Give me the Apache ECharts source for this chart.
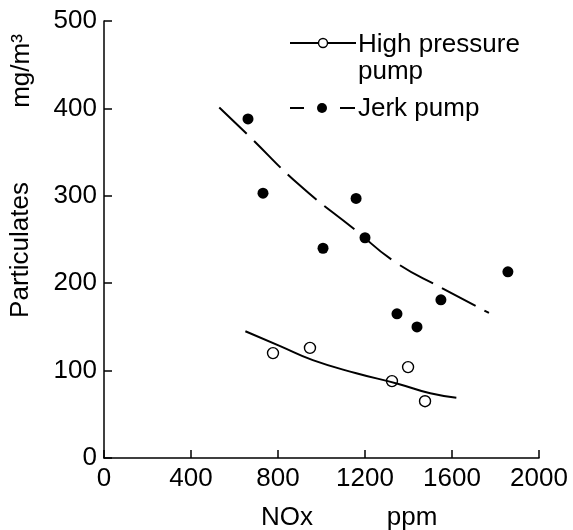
<!DOCTYPE html>
<html>
<head>
<meta charset="utf-8">
<script src="https://cdn.jsdelivr.net/npm/echarts@6/dist/echarts.min.js"></script>
<style>
html,body{margin:0;padding:0;background:#fff;}
#chart{width:573px;height:530px;}
</style>
</head>
<body>
<div id="chart"></div>
<script>
// Data
var xTicks = [0, 400, 800, 1200, 1600, 2000];
var yTicks = [0, 100, 200, 300, 400, 500];
var jerkX = [662, 731, 1007, 1159, 1200, 1347, 1439, 1549, 1857];
var jerkY = [388, 303, 240, 297, 252, 165, 150, 181, 213];
var hpX = [777, 947, 1324, 1398, 1476];
var hpY = [120, 126, 88, 104, 65];
var jerkFitX = [530, 660, 900, 1150, 1340, 1550, 1770];
var jerkFitY = [401, 370, 312, 262, 224, 195, 166];
var hpFitX = [650, 810, 960, 1160, 1350, 1500, 1620];
var hpFitY = [145, 128, 112, 97, 85, 74, 69];
var seriesNames = ['High pressure pump', 'Jerk pump'];

function pairs(xs, ys) { return xs.map(function (x, i) { return [x, ys[i]]; }); }

var FONT = '"Liberation Sans", Arial, Helvetica, sans-serif';
var chart = echarts.init(document.getElementById('chart'), null, {renderer: 'canvas'});

var axisCommon = {
  splitLine: {show: false},
  axisLine: {show: true, onZero: false, lineStyle: {color: '#000', width: 1.5}},
  axisTick: {show: true, inside: true, length: 8, lineStyle: {color: '#000', width: 1.5}},
  axisLabel: {color: '#000', fontSize: 26, fontFamily: FONT, formatter: function (v) { return String(v); }}
};

var option = {
  animation: false,
  backgroundColor: '#fff',
  grid: {left: 104, right: 34, top: 21, bottom: 72, containLabel: false},
  xAxis: Object.assign({}, axisCommon, {
    type: 'value', min: xTicks[0], max: xTicks[xTicks.length - 1], interval: 400,
    axisLabel: Object.assign({}, axisCommon.axisLabel, {margin: 8, showMaxLabel: true, showMinLabel: true})
  }),
  yAxis: Object.assign({}, axisCommon, {
    type: 'value', min: yTicks[0], max: yTicks[yTicks.length - 1], interval: 100,
    axisLabel: Object.assign({}, axisCommon.axisLabel, {margin: 7})
  }),
  series: [
    {
      name: seriesNames[1] + ' fit', type: 'line', smooth: true, symbol: 'none',
      data: pairs(jerkFitX, jerkFitY),
      lineStyle: {color: '#000', width: 2, type: [38, 10]}
    },
    {
      name: seriesNames[0] + ' fit', type: 'line', smooth: true, symbol: 'none',
      data: pairs(hpFitX, hpFitY),
      lineStyle: {color: '#000', width: 2}
    },
    {
      name: seriesNames[1], type: 'scatter', symbol: 'circle', symbolSize: 11,
      data: pairs(jerkX, jerkY),
      itemStyle: {color: '#000', opacity: 1}
    },
    {
      name: seriesNames[0], type: 'scatter', symbol: 'circle', symbolSize: 11,
      data: pairs(hpX, hpY),
      itemStyle: {color: '#fff', borderColor: '#000', borderWidth: 1.4, opacity: 1}
    }
  ],
  graphic: [
    // axis titles
    {type: 'text', x: 21, y: 250, rotation: Math.PI / 2,
      style: {text: 'Particulates', font: '26px ' + FONT, fill: '#000', align: 'center', verticalAlign: 'middle'}},
    {type: 'text', x: 22, y: 71, rotation: Math.PI / 2,
      style: {text: 'mg/m³', font: '26px ' + FONT, fill: '#000', align: 'center', verticalAlign: 'middle'}},
    {type: 'text', x: 287, y: 518,
      style: {text: 'NOx', font: '26px ' + FONT, fill: '#000', align: 'center', verticalAlign: 'middle'}},
    {type: 'text', x: 412, y: 518,
      style: {text: 'ppm', font: '26px ' + FONT, fill: '#000', align: 'center', verticalAlign: 'middle'}},
    // legend
    {type: 'line', shape: {x1: 290, y1: 43, x2: 356, y2: 43}, style: {stroke: '#000', lineWidth: 2}},
    {type: 'circle', shape: {cx: 323, cy: 43, r: 4.5}, style: {fill: '#fff', stroke: '#000', lineWidth: 1.4}, z: 10},
    {type: 'text', x: 358, y: 45,
      style: {text: 'High pressure', font: '26px ' + FONT, fill: '#000', align: 'left', verticalAlign: 'middle'}},
    {type: 'text', x: 358, y: 72,
      style: {text: 'pump', font: '26px ' + FONT, fill: '#000', align: 'left', verticalAlign: 'middle'}},
    {type: 'line', shape: {x1: 290, y1: 108, x2: 304, y2: 108}, style: {stroke: '#000', lineWidth: 2}},
    {type: 'circle', shape: {cx: 322, cy: 108, r: 5}, style: {fill: '#000'}},
    {type: 'line', shape: {x1: 340, y1: 108, x2: 355, y2: 108}, style: {stroke: '#000', lineWidth: 2}},
    {type: 'text', x: 358, y: 109,
      style: {text: 'Jerk pump', font: '26px ' + FONT, fill: '#000', align: 'left', verticalAlign: 'middle'}}
  ]
};
chart.setOption(option);
</script>
</body>
</html>
